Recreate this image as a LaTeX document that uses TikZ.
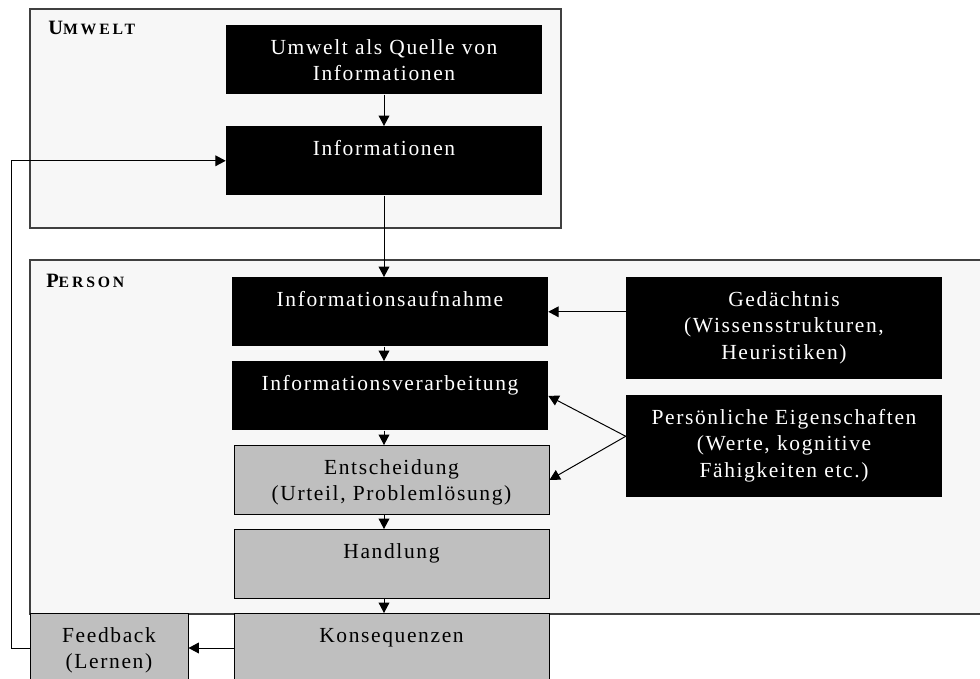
\documentclass[tikz,border=0pt]{standalone}
\usepackage{fontspec}
\setmainfont{Liberation Serif}[LetterSpace=7.5]
\usetikzlibrary{arrows.meta}

\begin{document}
\begin{tikzpicture}[font=\fontsize{15.3}{18.8}\selectfont,
  frm/.style={draw=black!75, line width=0.9pt, fill=black!3},
  bx/.style={inner sep=0pt, align=center, text width=7.9cm, text height=0.725cm,
             text depth=1cm, anchor=north},
  blk/.style={bx, fill=black, text=white},
  gry/.style={bx, fill=black!25, draw=black, line width=0.7pt, text width=7.875cm},
  tall/.style={text depth=1.825cm},
  lbl/.style={anchor=base west, inner sep=0pt,
              font=\fontsize{11.2}{12}\selectfont\bfseries\addfontfeatures{LetterSpace=18}},
  arr/.style={-{Triangle[length=2.6mm, width=2.7mm]}, line width=0.7pt},
]
  \path[use as bounding box, clip] (0,0) rectangle (24.5,-16.975);

  % Rahmen
  \draw[frm] (0.75,-0.225) rectangle (14.025,-5.7);
  \draw[frm] (0.75,-6.5) rectangle (25,-15.35);
  \node[lbl] (lumw) at (1.2,-0.875)  {{\fontsize{14.5}{15}\selectfont U}MWELT};
  \node[lbl] (lper) at (1.15,-7.175) {{\fontsize{14.5}{15}\selectfont P}ERSON};

  % Umwelt
  \node[blk] (quelle) at (9.6,-0.625)  {Umwelt als Quelle von\\ Informationen};
  \node[blk] (info)   at (9.6,-3.15)   {Informationen};

  % Person
  \node[blk] (aufn)   at (9.75,-6.925)   {Informationsaufnahme};
  \node[blk] (verarb) at (9.75,-9.025)   {Informationsverarbeitung};
  \node[gry] (entsch) at (9.7875,-11.125) {Entscheidung\\ (Urteil, Problemlösung)};
  \node[gry] (handl)  at (9.7875,-13.225) {Handlung};
  \node[gry] (kons)   at (9.7875,-15.325) {Konsequenzen};
  \node[gry, text width=3.95cm] (feedb) at (2.725,-15.325) {Feedback\\ (Lernen)};

  \node[blk, tall] (gedae) at (19.6,-6.925) {Gedächtnis\\ (Wissensstrukturen,\\ Heuristiken)};
  \node[blk, tall] (eigen) at (19.6,-9.875) {Persönliche Eigenschaften\\ (Werte, kognitive\\
                                             Fähigkeiten etc.)};

  % Pfeile
  \coordinate (achse) at (9.6,0);
  \draw[arr] (quelle.south) -- (info.north);
  \draw[arr] (info.south) -- (info.south |- aufn.north);
  \draw[arr] (aufn.south -| achse)   -- (verarb.north -| achse);
  \draw[arr] (verarb.south -| achse) -- (entsch.north -| achse);
  \draw[arr] (entsch.south -| achse) -- (handl.north -| achse);
  \draw[arr] (handl.south -| achse)  -- (kons.north -| achse);
  \draw[arr] (gedae.west |- aufn.east) -- (aufn.east);
  \coordinate (eigenW) at ([yshift=0.25cm]eigen.west);
  \draw[arr] (eigenW) -- (verarb.east);
  \draw[arr] (eigenW) -- (entsch.east);
  \draw[arr] (kons.west) -- (feedb.east);
  \draw[arr] (feedb.west) -- ++(-0.45,0) |- (info.west);
\end{tikzpicture}
\end{document}
